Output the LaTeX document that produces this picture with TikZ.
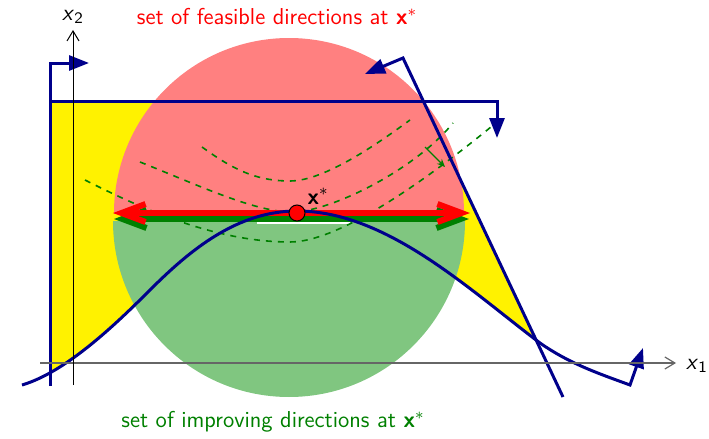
\documentclass[tikz,border=0pt]{standalone}
\usetikzlibrary{arrows.meta}
\definecolor{cblue}{RGB}{0,0,139}
\definecolor{cred}{RGB}{255,128,128}
\definecolor{cgreen}{RGB}{128,198,128}
\definecolor{dgreen}{RGB}{0,128,0}
\newcommand{\bluecurve}{(22,385) .. controls (66,372) and (115,325) .. (150,290) .. controls (190,250) and (237,211) .. (297,211) .. controls (387,211) and (470,290.5) .. (540,343) .. controls (570,364) and (600,374) .. (630,385)}
\begin{document}
\begin{tikzpicture}[x=0.5pt,y=-0.5pt,
  font=\sffamily\fontsize{11.5}{14}\selectfont,
  constraint/.style={draw=cblue, line width=1.5pt, -{Triangle[length=10pt,width=7.5pt]}},
  level/.style={dgreen, line width=0.8pt, dashed},
  dirarrow/.style={line width=3pt, {Straight Barb[length=12pt,width=9pt]}-{Straight Barb[length=12pt,width=9pt]}},
  axis/.style={line width=0.6pt, -{Straight Barb[length=5pt,width=6pt]}}]
\useasboundingbox (0,0) rectangle (709,439);
% feasible region
\begin{scope}
  \clip (50,101) -- (423,101) -- (563,397) -- (50,397) -- cycle;
  \fill[yellow] (0,0) -- (0,385) -- \bluecurve -- (709,385) -- (709,0) -- cycle;
\end{scope}
% half disks
\begin{scope}
  \clip (0,0) rectangle (709,213);
  \fill[cred] (289,213) circle[radius=175];
\end{scope}
\begin{scope}
  \clip (0,221) rectangle (709,439);
  \fill[cgreen] (289,221) circle[radius=176];
\end{scope}
\draw[white, line width=0.6pt] (257,223) -- (350,223);
% level sets
\draw[level] (202,147) .. controls (235,171) and (258,181) .. (290,181) .. controls (325,181) and (380,142) .. (410,120);
\draw[level] (140,162) .. controls (200,186) and (255,212) .. (292,212) .. controls (330,212) and (415,170) .. (453,123);
\draw[level] (85,180) .. controls (150,213) and (220,242) .. (290,242) .. controls (345,242) and (445,165) .. (497,122);
\coordinate (g0) at (425,147);
\coordinate (g1) at (445,167);
\draw[dgreen, line width=0.6pt, -{Stealth[length=4pt,width=3.5pt]}] (g0) -- (g1);
% direction arrows
\coordinate (gl) at (114,219);
\coordinate (gr) at (469,219);
\coordinate (rl) at (113,213);
\coordinate (rr) at (470,213);
\draw[dirarrow, dgreen] (gl) -- (gr);
\draw[dirarrow, red] (rl) -- (rr);
% constraints
\draw[constraint] (50,386) -- (50,63) -- (89,63);
\draw[constraint] (50,101) -- (497,101) -- (497,138);
\draw[constraint] (563,397) -- (403,58) -- (365,74);
\draw[constraint] \bluecurve -- (643,348);
% axes
\coordinate (xa0) at (40,363);
\coordinate (xa1) at (676,363);
\coordinate (ya0) at (73,385);
\coordinate (ya1) at (73,30);
\draw[axis, black!60] (xa0) -- (xa1);
\draw[axis, black, line width=0.5pt] (ya0) -- (ya1);
\node (x1) at (697,366) {\textit{x}$_{\mathsf{1}}$};
\node (x2) at (73,17) {\textit{x}$_{\mathsf{2}}$};
% optimum
\node[circle, fill=red, draw=black, line width=0.5pt, minimum size=8pt, inner sep=0pt] (xs) at (297,213) {};
\node (xsl) at (318,196) {\textbf{x}$^*$};
% captions
\node[red] (top) at (277,17) {set of feasible directions at \textbf{x}$^*$};
\node[dgreen] (bot) at (273,422) {set of improving directions at \textbf{x}$^*$};
\end{tikzpicture}
\end{document}
